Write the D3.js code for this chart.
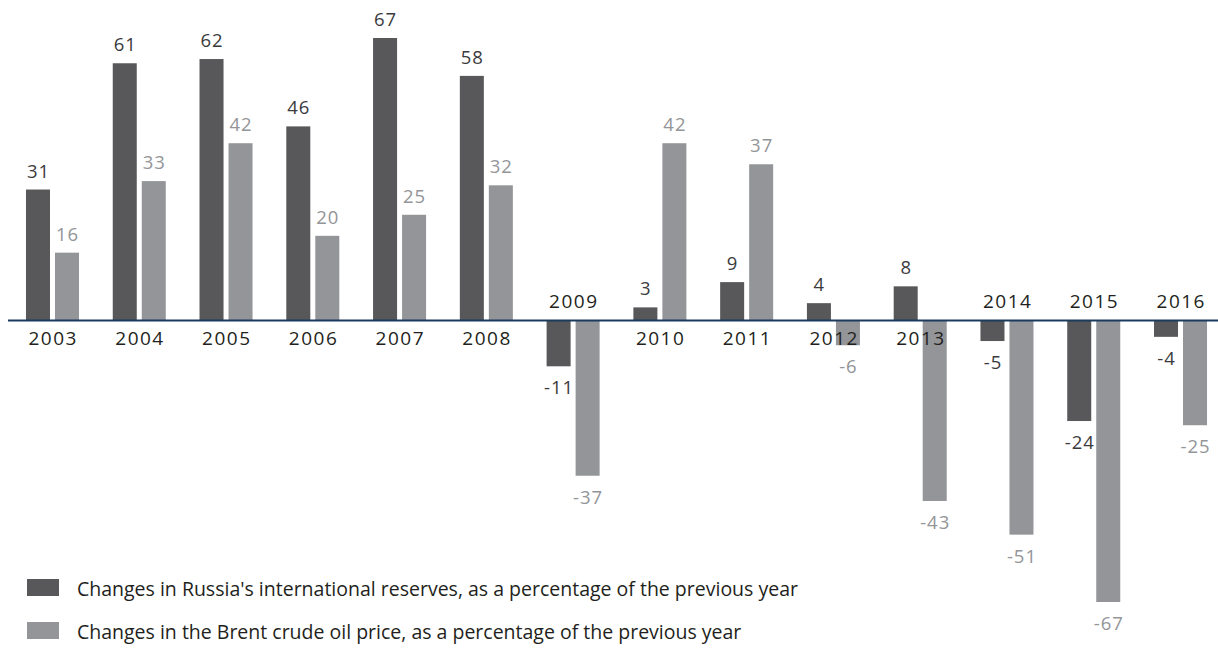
<!DOCTYPE html>
<html>
<head>
<meta charset="utf-8">
<script src="https://cdn.jsdelivr.net/npm/d3@7"></script>
<style>
  html, body { margin: 0; padding: 0; background: #ffffff; }
  svg { display: block; font-family: "Open Sans", Lato, sans-serif; }
</style>
</head>
<body>
<svg id="chart" width="1218" height="648"></svg>
<script>
// Year-on-year changes, % of previous year
const years = ["2003","2004","2005","2006","2007","2008","2009","2010","2011","2012","2013","2014","2015","2016"];
const reservesChange = [31, 61, 62, 46, 67, 58, -11, 3, 9, 4, 8, -5, -24, -4];
const brentChange    = [16, 33, 42, 20, 25, 32, -37, 42, 37, -6, -43, -51, -67, -25];
const seriesKeys = ["reserves", "brent"];
const seriesLabels = [
  "Changes in Russia's international reserves, as a percentage of the previous year",
  "Changes in the Brent crude oil price, as a percentage of the previous year"
];

const colors = { reserves: "#58585a", brent: "#939598" };
const labelColors = { reserves: "#3b3b3d", brent: "#939598" };

const svg = d3.select("#chart");

const x0 = d3.scaleBand()
  .domain(years)
  .range([9.1, 1223.9])
  .paddingInner(0.389)
  .paddingOuter(0.1945);

const x1 = d3.scaleBand()
  .domain(seriesKeys)
  .range([0, x0.bandwidth()])
  .paddingInner(0.1724);

const y = d3.scaleLinear().domain([0, 67]).range([320, 38]);

const rows = years.map((yr, i) => ({
  year: yr,
  reserves: reservesChange[i],
  brent: brentChange[i]
}));

const groups = svg.append("g").selectAll("g")
  .data(rows)
  .join("g")
  .attr("transform", d => `translate(${x0(d.year)},0)`);

// bars
groups.selectAll("rect")
  .data(d => seriesKeys.map(k => ({ key: k, value: d[k] })))
  .join("rect")
  .attr("x", d => x1(d.key))
  .attr("width", x1.bandwidth())
  .attr("y", d => y(Math.max(0, d.value)))
  .attr("height", d => Math.abs(y(d.value) - y(0)))
  .attr("fill", d => colors[d.key]);

// zero line
svg.append("line")
  .attr("x1", 8).attr("x2", 1218)
  .attr("y1", y(0) + 0.5).attr("y2", y(0) + 0.5)
  .attr("stroke", "#1b3a5e")
  .attr("stroke-width", 2);

// value labels
groups.selectAll("text.val")
  .data(d => seriesKeys.map(k => ({ key: k, value: d[k] })))
  .join("text")
  .attr("class", "val")
  .attr("x", d => x1(d.key) + x1.bandwidth() / 2 + 0.5)
  .attr("y", d => d.value >= 0 ? y(d.value) - 12 : y(d.value) + 28)
  .attr("text-anchor", "middle")
  .attr("font-size", 18.5)
  .attr("letter-spacing", 1)
  .attr("fill", d => labelColors[d.key])
  .text(d => d.value);

// year labels: above the axis when both changes are negative
groups.append("text")
  .attr("x", x0.bandwidth() / 2 + 0.75)
  .attr("y", d => (d.reserves < 0 && d.brent < 0) ? 308 : 345)
  .attr("text-anchor", "middle")
  .attr("font-size", 19)
  .attr("letter-spacing", 1.5)
  .attr("fill", "#231f20")
  .text(d => d.year);

// legend
const legend = svg.append("g").selectAll("g")
  .data(seriesKeys)
  .join("g")
  .attr("transform", (d, i) => `translate(27,${579 + i * 43})`);

legend.append("rect")
  .attr("width", 32).attr("height", 17)
  .attr("fill", d => colors[d]);

legend.append("text")
  .attr("x", 50)
  .attr("y", 17)
  .attr("font-size", 19.5)
  .attr("fill", "#231f20")
  .text((d, i) => seriesLabels[i]);
</script>
</body>
</html>
